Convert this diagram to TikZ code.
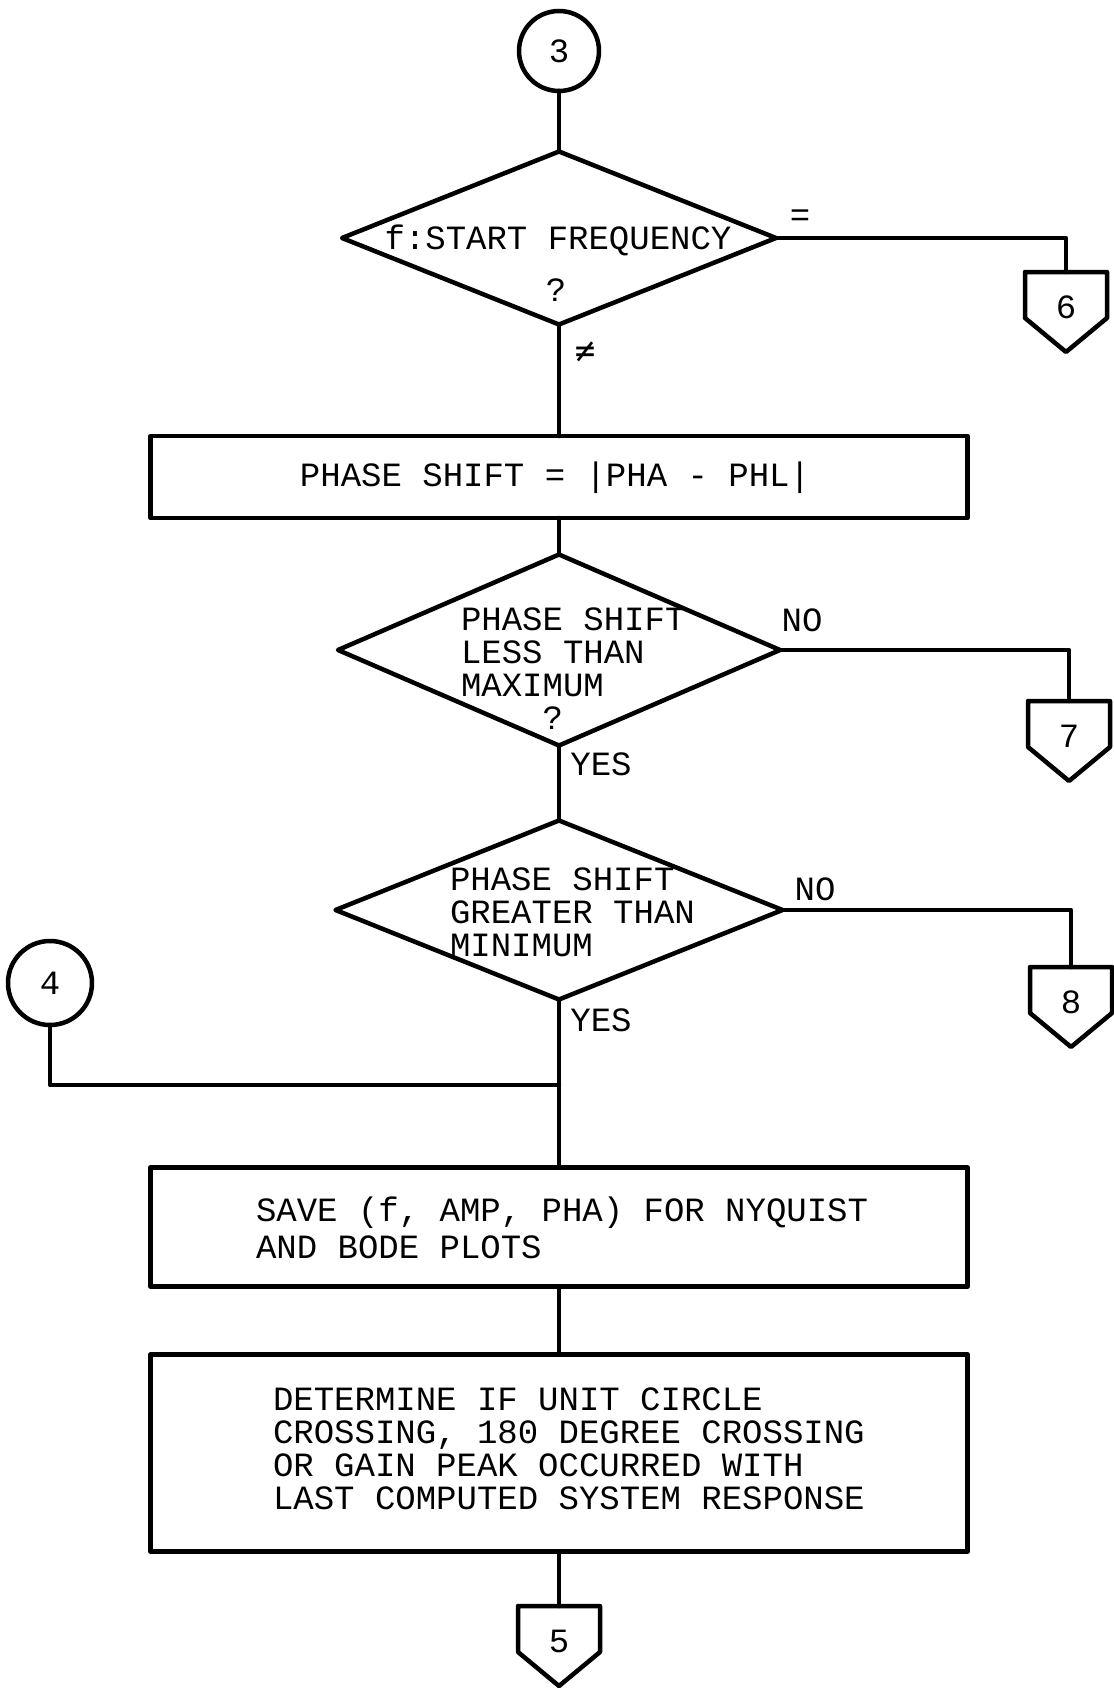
\documentclass[tikz,border=0pt]{standalone}
\usepackage{fontspec}
\setmainfont{Liberation Mono}
\newfontfamily\symf{DejaVu Sans Mono}
\usetikzlibrary{shapes.geometric,calc}
\begin{document}
\begin{tikzpicture}[x=1pt,y=-1pt,
  ln/.style={line width=4.5pt, line cap=round, line join=round},
  txt/.style={font=\fontsize{34pt}{33pt}\selectfont, inner sep=0pt, outer sep=0pt},
  conn/.style={circle, draw, ln, minimum size=#1, inner sep=0pt, outer sep=0pt, font=\fontsize{34pt}{33pt}\selectfont},
  dec/.style={diamond, draw, ln, inner sep=0pt, outer sep=0pt},
  proc/.style={rectangle, draw, ln, inner sep=0pt, outer sep=0pt},
  offp/.style={rectangle, minimum width=82pt, minimum height=46pt, inner sep=0pt, outer sep=0pt, font=\fontsize{34pt}{33pt}\selectfont}
]
\useasboundingbox (0,0) rectangle (1113,1688);
\fill[white] (0,0) rectangle (1113,1688);
\newcommand\pentdraw[1]{\draw[ln] (#1.north west) -- (#1.north east) -- (#1.south east) -- ([yshift=-34pt]#1.south) -- (#1.south west) -- cycle;}
\newcommand\lowdigit[1]{\raisebox{-23pt}[0pt][0pt]{#1}}

% connectors (symbols)
\node[conn=80pt] (c3) at (559,51) {3};
\node[conn=84pt] (c4) at (50,983) {4};

% decisions and processes
\node[dec, minimum width=434pt, minimum height=173pt] (d1) at (559,238) {};
\node[txt] (t1) at (558,240) {f:START FREQUENCY};
\node[txt] (q1) at (556,290) {?};

\node[proc, minimum width=817pt, minimum height=82pt] (b1) at (559,477) {};
\node[txt] (tb1) at (555,478) {PHASE SHIFT = |PHA - PHL|};

\node[dec, minimum width=442pt, minimum height=191pt] (d2) at (559,650) {};
\node[txt, align=left, anchor=north west] (t2) at (461,608) {PHASE SHIFT\\LESS THAN\\MAXIMUM\\\phantom{MAXI}?};

\node[dec, minimum width=447pt, minimum height=179pt] (d3) at (559,910) {};
\node[txt, align=left, anchor=north west] (t3) at (450,868) {PHASE SHIFT\\GREATER THAN\\MINIMUM};

\node[proc, minimum width=817pt, minimum height=119pt] (b2) at (559,1227) {};
\node[txt, align=left, anchor=north west, font=\fontsize{34pt}{37pt}\selectfont] (tb2) at (256,1197) {SAVE (f, AMP, PHA) FOR NYQUIST\\AND BODE PLOTS};

\node[proc, minimum width=817pt, minimum height=197pt] (b3) at (559,1453) {};
\node[txt, align=left, anchor=north west] (tb3) at (273,1388) {DETERMINE IF UNIT CIRCLE\\CROSSING, 180 DEGREE CROSSING\\OR GAIN PEAK OCCURRED WITH\\LAST COMPUTED SYSTEM RESPONSE};

% off-page connectors
\node[offp] (c6) at (1066,295) {\lowdigit{6}};
\node[offp] (c7) at (1069,724) {\lowdigit{7}};
\node[offp] (c8) at (1071,990) {\lowdigit{8}};
\node[offp] (c5) at (559,1629) {\lowdigit{5}};
\pentdraw{c6}
\pentdraw{c7}
\pentdraw{c8}
\pentdraw{c5}

% labels
\node[txt] (leq) at (800,218) {=};
\node[txt] (lne) at (585,352) {\symf ≠};
\node[txt] (lno1) at (802,620) {NO};
\node[txt] (lyes1) at (601,764) {YES};
\node[txt] (lno2) at (815,889) {NO};
\node[txt] (lyes2) at (601,1020) {YES};

% lines
\coordinate (j) at (559,1085);
\draw[ln] (c3.south) -- (d1.north);
\draw[ln] (d1.east) -| (c6.north);
\draw[ln] (d1.south) -- (b1.north);
\draw[ln] (b1.south) -- (d2.north);
\draw[ln] (d2.east) -| (c7.north);
\draw[ln] (d2.south) -- (d3.north);
\draw[ln] (d3.east) -| (c8.north);
\draw[ln] (d3.south) -- (b2.north);
\draw[ln] (c4.south) |- (j);
\draw[ln] (b2.south) -- (b3.north);
\draw[ln] (b3.south) -- (c5.north);
\end{tikzpicture}
\end{document}
